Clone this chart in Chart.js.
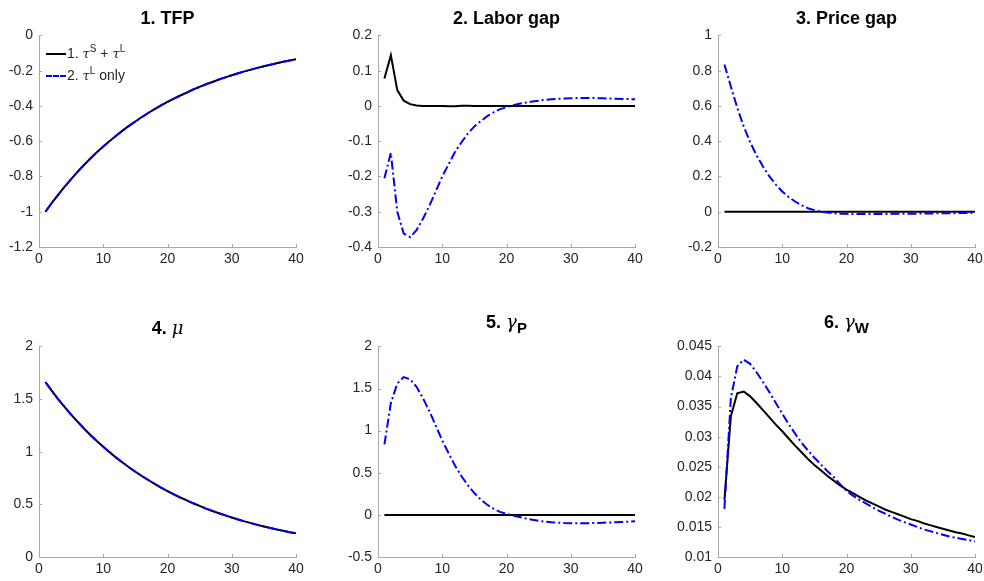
<!DOCTYPE html>
<html>
<head>
<meta charset="utf-8">
<script src="https://cdn.jsdelivr.net/npm/chart.js@4.4.1/dist/chart.umd.min.js"></script>
<style>
  body { margin: 0; background: #fff; width: 984px; height: 581px; position: relative; overflow: hidden;
         font-family: "Liberation Sans", Helvetica, Arial, sans-serif; color: #000; }
  canvas { position: absolute; }
  .ttl { position: absolute; text-align: center; font-weight: bold; font-size: 18px; line-height: 20px; }
  .ttl i { font-family: "DejaVu Serif", serif; font-weight: normal; font-style: italic; }
  .ttl sub { font-size: 15px; vertical-align: -5px; }
  .lg { position: absolute; font-size: 14px; color: #262626; line-height: 16px; white-space: nowrap; }
  .lg span.ln { display: inline-block; width: 20px; height: 0; vertical-align: middle; margin-right: 1px; }
  .lg i { font-family: "DejaVu Serif", serif; font-style: italic; font-size: 13px; }
  .lg sup { font-size: 10px; vertical-align: 6px; }
</style>
</head>
<body>

<canvas id="c1" width="319" height="250"></canvas>
<canvas id="c2" width="319" height="250"></canvas>
<canvas id="c3" width="319" height="250"></canvas>
<canvas id="c4" width="319" height="249"></canvas>
<canvas id="c5" width="319" height="249"></canvas>
<canvas id="c6" width="319" height="249"></canvas>

<div class="ttl" style="left:39px;top:8px;width:257px">1. TFP</div>
<div class="ttl" style="left:378px;top:8px;width:257px">2. Labor gap</div>
<div class="ttl" style="left:718px;top:8px;width:257px">3. Price gap</div>
<div class="ttl" style="left:39px;top:318px;width:257px">4. <i>μ</i></div>
<div class="ttl" style="left:378px;top:312px;width:257px">5. <i>γ</i><sub>P</sub></div>
<div class="ttl" style="left:718px;top:312px;width:257px">6. <i>γ</i><sub>W</sub></div>

<div class="lg" style="left:46px;top:41px"><span class="ln" style="border-top:2px solid #000"></span>1. <i>τ</i><sup>S</sup> + <i>τ</i><sup>L</sup></div>
<div class="lg" style="left:46px;top:63px"><span class="ln" style="border-top:2px dashed #0000ff"></span>2. <i>τ</i><sup>L</sup> only</div>

<script>
// periods 1..40
var periods = [1,2,3,4,5,6,7,8,9,10,11,12,13,14,15,16,17,18,19,20,
               21,22,23,24,25,26,27,28,29,30,31,32,33,34,35,36,37,38,39,40];

var seriesNames = ["1. \u03c4S + \u03c4L", "2. \u03c4L only"];

// 1. TFP (both cases the same)
var tfpBoth = [-1,-0.95,-0.903,-0.857,-0.815,-0.774,-0.735,-0.698,-0.663,-0.63,
               -0.599,-0.569,-0.54,-0.513,-0.488,-0.463,-0.44,-0.418,-0.397,-0.377,
               -0.358,-0.341,-0.324,-0.307,-0.292,-0.277,-0.264,-0.25,-0.238,-0.226,
               -0.215,-0.204,-0.194,-0.184,-0.175,-0.166,-0.158,-0.15,-0.142,-0.135];

// 2. Labor gap
var laborBoth = [0.078,0.144,0.045,0.015,0.005,0.001,0,-0.0005,-0.0005,-0.0005,
                 -0.001,-0.0012,0.0005,0.0005,0,0,0,0,0,0,
                 0,0,0,0,0,0,0,0,0,0,0,0,0,0,0,0,0,0,0,0];
var laborL = [-0.205,-0.133,-0.3,-0.362,-0.372,-0.352,-0.32,-0.283,-0.242,-0.2,
              -0.165,-0.13,-0.103,-0.078,-0.058,-0.043,-0.029,-0.018,-0.009,-0.004,
              0.002,0.006,0.0095,0.0125,0.015,0.017,0.0188,0.0202,0.0212,0.0218,
              0.0222,0.0223,0.0223,0.0221,0.0217,0.0212,0.0206,0.02,0.0194,0.0188];

// 3. Price gap
var priceBoth = [0,0,0,0,0,0,0,0,0,0,0,0,0,0,0,0,0,0,0,0,
                 0,0,0,0,0,0,0,0,0,0,0,0,0,0,0,0,0,0,0,0];
var priceL = [0.835,0.71,0.59,0.484,0.395,0.32,0.256,0.2,0.154,0.115,
              0.083,0.058,0.037,0.02,0.009,0,-0.005,-0.009,-0.011,-0.012,
              -0.013,-0.013,-0.013,-0.013,-0.013,-0.013,-0.012,-0.012,-0.012,-0.011,
              -0.011,-0.01,-0.01,-0.009,-0.009,-0.008,-0.008,-0.007,-0.007,-0.006];

// 4. mu (both cases the same)
var muBoth = [1.66,1.577,1.498,1.423,1.352,1.285,1.22,1.159,1.101,1.046,
              0.994,0.944,0.897,0.852,0.81,0.769,0.731,0.694,0.659,0.626,
              0.595,0.565,0.537,0.51,0.485,0.46,0.437,0.416,0.395,0.375,
              0.356,0.338,0.322,0.305,0.29,0.276,0.262,0.249,0.236,0.226];

// 5. gamma_P
var gpBoth = [0,0,0,0,0,0,0,0,0,0,0,0,0,0,0,0,0,0,0,0,
              0,0,0,0,0,0,0,0,0,0,0,0,0,0,0,0,0,0,0,0];
var gpL = [0.837,1.327,1.559,1.636,1.609,1.52,1.385,1.23,1.057,0.883,
           0.729,0.583,0.459,0.351,0.258,0.181,0.12,0.073,0.035,0.012,
           -0.008,-0.025,-0.042,-0.057,-0.07,-0.08,-0.088,-0.093,-0.097,-0.099,
           -0.1,-0.099,-0.098,-0.096,-0.093,-0.09,-0.087,-0.084,-0.081,-0.077];

// 6. gamma_W
var gwBoth = [0.0195,0.0334,0.0372,0.0375,0.0367,0.0356,0.0344,0.0332,0.032,0.0309,
              0.0297,0.0285,0.0274,0.0263,0.0253,0.0244,0.0235,0.0227,0.0219,0.0212,
              0.0206,0.02,0.0194,0.0189,0.0184,0.0179,0.0175,0.0171,0.0167,0.0163,
              0.016,0.0156,0.0153,0.015,0.0147,0.0144,0.0141,0.0139,0.0136,0.0133];
var gwL = [0.018,0.0364,0.0417,0.0428,0.0421,0.0407,0.0391,0.0374,0.0356,0.0338,
           0.0321,0.0305,0.029,0.0277,0.0265,0.0254,0.0243,0.0233,0.0221,0.021,
           0.0202,0.0195,0.0189,0.0183,0.0177,0.0172,0.0167,0.0162,0.0158,0.0154,
           0.015,0.0146,0.0143,0.014,0.0137,0.0134,0.0132,0.013,0.0128,0.0126];

// y axis ranges [min, max, step]
var yRanges = [[-1.2, 0, 0.2], [-0.4, 0.2, 0.1], [-0.2, 1, 0.2],
               [0, 2, 0.5], [-0.5, 2, 0.5], [0.01, 0.045, 0.005]];
var xTicks = [0, 10, 20, 30, 40];

// plot area positions (left, top)
var boxes = [[39, 31], [378, 31], [718, 31],
             [39, 342], [378, 342], [718, 342]];

var tickColor = "#262626";
var axisColor = "#a8a8a8";
var yAxisW = 48;

var inwardTicks = {
    id: 'inwardTicks',
    beforeDatasetsDraw: function (chart) {
        var ctx = chart.ctx, a = chart.chartArea;
        var xs = chart.scales.x, ys = chart.scales.y;
        ctx.save();
        ctx.strokeStyle = axisColor;
        ctx.lineWidth = 1;
        ctx.beginPath();
        xs.ticks.forEach(function (t, i) {
            var px = Math.round(xs.getPixelForTick(i)) + 0.5;
            ctx.moveTo(px, a.bottom); ctx.lineTo(px, a.bottom - 3);
        });
        ys.ticks.forEach(function (t, i) {
            var py = Math.round(ys.getPixelForTick(i)) + 0.5;
            ctx.moveTo(a.left, py); ctx.lineTo(a.left + 3, py);
        });
        ctx.stroke();
        ctx.restore();
    }
};

function pts(arr) {
    return periods.map(function (t, i) { return {x: t, y: arr[i]}; });
}

function makeChart(n, black, blue) {
    var b = boxes[n - 1], r = yRanges[n - 1];
    var cv = document.getElementById("c" + n);
    cv.style.left = (b[0] - yAxisW) + "px";
    cv.style.top = (b[1] - 10) + "px";
    new Chart(cv, {
        type: 'line',
        data: {
            datasets: [{
                label: seriesNames[0],
                data: pts(black),
                borderColor: "#000000",
                borderWidth: 2,
                pointRadius: 0,
                tension: 0,
                order: 1
            }, {
                label: seriesNames[1],
                data: pts(blue),
                borderColor: "#0000ff",
                borderWidth: 2,
                borderDash: [9, 3, 2, 3],
                pointRadius: 0,
                tension: 0,
                order: 0
            }]
        },
        options: {
            responsive: false,
            animation: false,
            layout: { padding: { top: 10, right: 14, left: 0, bottom: 0 } },
            plugins: { legend: { display: false }, tooltip: { enabled: false } },
            scales: {
                x: {
                    type: 'linear',
                    min: 0, max: 40,
                    afterBuildTicks: function (s) { s.ticks = xTicks.map(function (v) { return {value: v}; }); },
                    afterFit: function (s) { s.height = 24; },
                    grid: { display: false, drawTicks: false },
                    border: { display: true, color: axisColor, width: 1 },
                    ticks: { color: tickColor, padding: 4, maxRotation: 0,
                             font: { family: "Liberation Sans", size: 14 } }
                },
                y: {
                    min: r[0], max: r[1],
                    afterFit: function (s) { s.width = yAxisW; },
                    grid: { display: false, drawTicks: false },
                    border: { display: true, color: axisColor, width: 1 },
                    ticks: {
                        stepSize: r[2],
                        color: tickColor,
                        padding: 6,
                        font: { family: "Liberation Sans", size: 14 },
                        callback: function (v) { var s = +v.toFixed(4); return String(s === 0 ? 0 : s); }
                    }
                }
            }
        },
        plugins: [inwardTicks]
    });
}

makeChart(1, tfpBoth, tfpBoth);
makeChart(2, laborBoth, laborL);
makeChart(3, priceBoth, priceL);
makeChart(4, muBoth, muBoth);
makeChart(5, gpBoth, gpL);
makeChart(6, gwBoth, gwL);
</script>
</body>
</html>
